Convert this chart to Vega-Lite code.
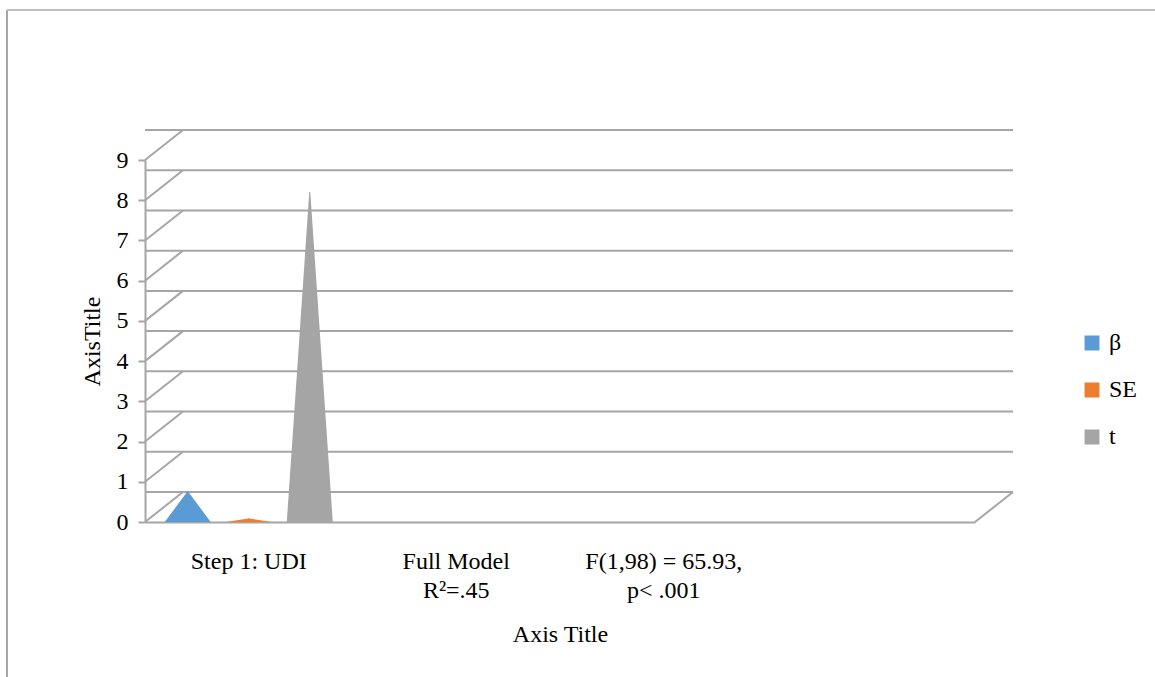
{
  "$schema": "https://vega.github.io/schema/vega-lite/v6.json",
  "width": 830,
  "height": 362,
  "autosize": "none",
  "padding": {"left": 145, "top": 160, "right": 180, "bottom": 155},
  "background": "white",
  "config": {
    "font": "Liberation Serif",
    "view": {"stroke": null}
  },
  "datasets": {
    "main": [
      {"category": "Step 1: UDI", "series": "β", "value": 0.75, "base": 0},
      {"category": "Step 1: UDI", "series": "SE", "value": 0.09, "base": 0},
      {"category": "Step 1: UDI", "series": "t", "value": 8.2, "base": 0}
    ],
    "ticks": [
      {"amount": 0}, {"amount": 1}, {"amount": 2}, {"amount": 3}, {"amount": 4},
      {"amount": 5}, {"amount": 6}, {"amount": 7}, {"amount": 8}, {"amount": 9}
    ]
  },
  "layer": [
    {
      "data": {"values": [{}]},
      "mark": {"type": "rule", "color": "#A6A6A6", "strokeWidth": 2, "xOffset": -138, "yOffset": -150, "y2Offset": 155},
      "encoding": {
        "x": {"datum": "Step 1: UDI", "type": "nominal", "bandPosition": 0},
        "y": {"datum": 9, "type": "quantitative"},
        "y2": {"datum": 0}
      }
    },
    {
      "data": {"values": [{}]},
      "mark": {"type": "rule", "color": "#BFBFBF", "strokeWidth": 2, "xOffset": -138, "x2Offset": 390, "yOffset": -150},
      "encoding": {
        "y": {"datum": 9, "type": "quantitative"},
        "x": {"datum": "Step 1: UDI", "type": "nominal", "bandPosition": 0},
        "x2": {"datum": " "}
      }
    },
    {
      "data": {"name": "ticks"},
      "mark": {"type": "rule", "color": "#A6A6A6", "strokeWidth": 2, "xOffset": 38, "x2Offset": 38, "yOffset": -30},
      "encoding": {
        "y": {"field": "amount", "type": "quantitative", "scale": {"domain": [0, 9]}}
      }
    },
    {
      "data": {"name": "ticks"},
      "mark": {"type": "point", "shape": "M0,0L1,-0.79", "size": 5776, "filled": false, "stroke": "#A6A6A6", "strokeWidth": 2, "opacity": 1},
      "encoding": {
        "x": {"datum": "Step 1: UDI", "type": "nominal", "bandPosition": 0},
        "y": {"field": "amount", "type": "quantitative"}
      }
    },
    {
      "data": {"values": [{"amount": 0}]},
      "mark": {"type": "point", "shape": "M0,0L1,-0.79", "size": 5776, "filled": false, "stroke": "#A6A6A6", "strokeWidth": 2, "opacity": 1},
      "encoding": {
        "x": {"datum": " ", "type": "nominal", "bandPosition": 1},
        "y": {"field": "amount", "type": "quantitative"}
      }
    },
    {
      "data": {"name": "main"},
      "transform": [{"fold": ["base", "value"], "as": ["end", "amount"]}],
      "mark": {"type": "trail", "xOffset": 17, "clip": true},
      "encoding": {
        "x": {
          "field": "category",
          "type": "nominal",
          "sort": null,
          "scale": {"domain": ["Step 1: UDI", "Full Model R²=.45", "F(1,98) = 65.93, p< .001", " "], "paddingInner": 0, "paddingOuter": 0},
          "axis": {
            "title": "Axis Title",
            "titleFontSize": 24,
            "titleFontWeight": "normal",
            "titleColor": "black",
            "titlePadding": 20,
            "labelAngle": 0,
            "labelAlign": "center",
            "labelFontSize": 24,
            "labelColor": "black",
            "labelPadding": 39,
            "labelLineHeight": 29,
            "labelExpr": "datum.label == 'Full Model R²=.45' ? ['Full Model', 'R²=.45'] : datum.label == 'F(1,98) = 65.93, p< .001' ? ['F(1,98) = 65.93,', 'p< .001'] : datum.label",
            "ticks": false,
            "domain": true,
            "domainColor": "#A6A6A6",
            "domainWidth": 2,
            "grid": false
          }
        },
        "xOffset": {
          "field": "series",
          "type": "nominal",
          "scale": {"domain": ["β", "SE", "t"], "paddingInner": 0, "paddingOuter": 0.7}
        },
        "y": {
          "field": "amount",
          "type": "quantitative",
          "scale": {"domain": [0, 9]},
          "axis": {
            "title": "AxisTitle",
            "titleFontSize": 24,
            "titleFontWeight": "normal",
            "titleColor": "black",
            "titlePadding": 12,
            "values": [0, 1, 2, 3, 4, 5, 6, 7, 8, 9],
            "labelFontSize": 24,
            "labelColor": "black",
            "labelPadding": 10,
            "tickSize": 7,
            "tickColor": "#A6A6A6",
            "tickWidth": 2,
            "domainColor": "#A6A6A6",
            "domainWidth": 2,
            "grid": false
          }
        },
        "size": {
          "field": "end",
          "type": "nominal",
          "scale": {"domain": ["base", "value"], "range": [46, 0]},
          "legend": null
        },
        "color": {
          "field": "series",
          "type": "nominal",
          "scale": {"domain": ["β", "SE", "t"], "range": ["#5B9BD5", "#ED7D31", "#A5A5A5"]},
          "legend": {
            "title": null,
            "orient": "none",
            "legendX": 935,
            "legendY": 171,
            "symbolType": "square",
            "symbolSize": 180,
            "labelFontSize": 24,
            "labelColor": "black",
            "rowPadding": 23,
            "labelOffset": 5,
            "encode": {
              "symbols": {
                "update": {
                  "fill": {"scale": "color", "field": "value"},
                  "stroke": {"value": "transparent"},
                  "opacity": {"value": 1}
                }
              }
            }
          }
        },
        "order": {"field": "end", "type": "nominal"}
      }
    }
  ]
}
